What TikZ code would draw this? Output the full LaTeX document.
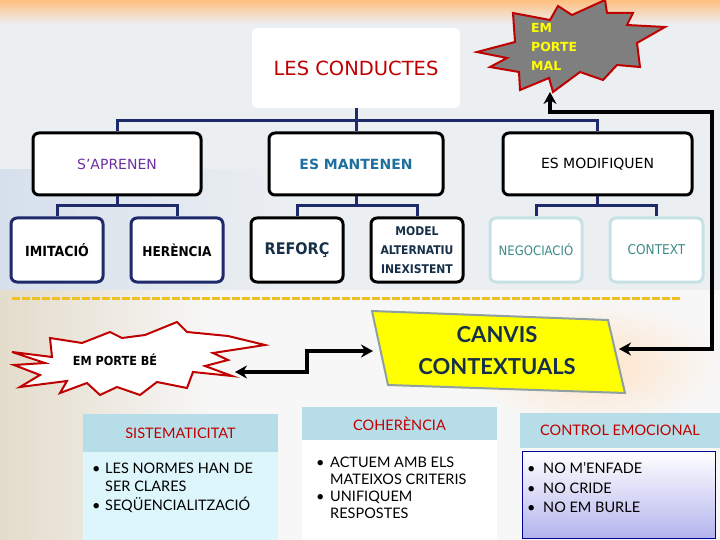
\documentclass[tikz,border=0pt]{standalone}
\usepackage{fontspec}
\setmainfont{DejaVu Sans}
\newfontfamily\cond{DejaVu Sans Condensed}
\newfontfamily\lato{Lato}
\usetikzlibrary{arrows.meta,calc}
\definecolor{bgc}{HTML}{ECEFF2}
\definecolor{navyl}{HTML}{1F2A6B}
\definecolor{cred}{HTML}{C00000}
\definecolor{cpurp}{HTML}{7030A0}
\definecolor{cblue}{HTML}{1F6F9F}
\definecolor{cteal}{HTML}{3E8A8A}
\definecolor{paleteal}{HTML}{C6E2E4}
\definecolor{hdr}{HTML}{B7DEE8}
\definecolor{cyanbody}{HTML}{DDF6FC}
\definecolor{lav}{HTML}{B4B4EE}
\definecolor{cnavy}{HTML}{17304A}
\definecolor{cyel}{HTML}{FFFF00}
\definecolor{dashy}{HTML}{F0C020}
\definecolor{canvb}{HTML}{8FA0A0}
\definecolor{starg}{HTML}{7F7F7F}
\definecolor{beige}{HTML}{E4DCCB}
\definecolor{paleb}{HTML}{D6E0EC}
\begin{document}
\begin{tikzpicture}[x=1pt,y=-1pt,
  topbox/.style={draw=black,line width=3pt,rounded corners=6pt,fill=white,minimum width=168pt,minimum height=62pt,inner sep=0pt},
  smallbox/.style={line width=3pt,rounded corners=6pt,fill=white,minimum width=92pt,minimum height=64pt,inner sep=0pt,align=center},
  tree/.style={navyl,line width=3pt},
  blackarr/.style={line width=4pt,black,{Stealth[length=12pt,width=13pt]}-{Stealth[length=12pt,width=13pt]}},
  starline/.style={line width=2pt,draw=cred,line join=miter},
  lbl/.style={inner sep=0pt},
  bul/.style={inner sep=0pt,anchor=north west,align=left,font=\lato\fontsize{14.5}{18.5}\selectfont}
]
\useasboundingbox (0,0) rectangle (720,540);
% background
\fill[bgc] (0,0) rectangle (720,540);
\shade[top color=orange!50!white, bottom color=bgc] (0,0) rectangle (720,24);
\shade[left color=paleb, right color=bgc] (0,170) rectangle (300,295);
\fill[white!97!black] (0,290) rectangle (720,540);
\shade[left color=beige, right color=white!97!black] (0,290) rectangle (215,540);
\shade[inner color=orange!22!white, outer color=white!97!black] (470,300) rectangle (720,430);

% dashed separator
\draw[dashy,line width=3pt,dash pattern=on 8pt off 2pt] (12,298) -- (682,298);

% top node
\node[fill=white,rounded corners=6pt,minimum width=208pt,minimum height=80pt,inner sep=0pt,
  text=cred,font=\fontsize{19.5}{24}\selectfont] (lc) at (356,68) {LES CONDUCTES};

% level 1
\node[topbox,text=cpurp,font=\fontsize{14}{17}\selectfont] (sa) at (117,164) {S’APRENEN};
\node[topbox,minimum width=174pt,text=cblue,font=\bfseries\fontsize{14}{17}\selectfont] (ma) at (356,164) {ES MANTENEN};
\node[topbox,minimum width=189pt,font=\fontsize{14}{17}\selectfont] (mo) at (597.5,164) {ES MODIFIQUEN};

% level 2
\node[smallbox,draw=navyl,font=\cond\bfseries\fontsize{14}{17}\selectfont] (im) at (57,250) {IMITACIÓ};
\node[smallbox,draw=navyl,font=\cond\bfseries\fontsize{13.5}{17}\selectfont] (he) at (177,250) {HERÈNCIA};
\node[smallbox,draw=black,text=cnavy,font=\cond\bfseries\fontsize{16}{19}\selectfont] (re) at (297,250) {REFORÇ};
\node[smallbox,draw=black,text=cnavy,font=\cond\bfseries\fontsize{12}{19}\selectfont] (md) at (417,250) {MODEL\\ALTERNATIU\\INEXISTENT};
\node[smallbox,draw=paleteal,text=cteal,font=\cond\fontsize{13}{16}\selectfont] (ne) at (536,250) {NEGOCIACIÓ};
\node[smallbox,minimum width=93pt,draw=paleteal,text=cteal,font=\cond\fontsize{13.5}{16}\selectfont] (co) at (656.5,250) {CONTEXT};

% tree connectors
\draw[tree] (sa.north) -- ++(0,-11) -| (lc.south);
\draw[tree] (ma.north) -- ++(0,-11) -| (lc.south);
\draw[tree] (mo.north) -- ++(0,-11) -| (lc.south);
\draw[tree] (im.north) -- ++(0,-11) -| (sa.south);
\draw[tree] (he.north) -- ++(0,-11) -| (sa.south);
\draw[tree] (re.north) -- ++(0,-11) -| (ma.south);
\draw[tree] (md.north) -- ++(0,-11) -| (ma.south);
\draw[tree] (ne.north) -- ++(0,-11) -| (mo.south);
\draw[tree] (co.north) -- ++(0,-11) -| (mo.south);

% EM PORTE MAL star
\draw[starline,fill=starg] (477,52) -- (515,42) -- (513,13) -- (550,20) -- (558,6) -- (572,15) -- (605,0)
  -- (607,13) -- (633,13) -- (627,25) -- (665,27) -- (637,43) -- (640,67) -- (617,65) -- (603,80)
  -- (580,72) -- (553,92) -- (549,78) -- (520,90) -- (519,72) -- (490,67) -- (507,58) -- cycle;
\node[lbl,anchor=west,align=left,text=cyel,font=\bfseries\fontsize{12.5}{19}\selectfont] (mal) at (531,47) {EM\\PORTE\\MAL};

% EM PORTE BE star
\draw[starline,fill=white] (12,352) -- (52,357) -- (50,338) -- (82,343) -- (110,332) -- (122,338)
  -- (145,335) -- (177,322) -- (187,332) -- (228,336) -- (265,345) -- (213,353) -- (228,360)
  -- (205,366) -- (232,376) -- (193,372) -- (187,388) -- (157,382) -- (140,395) -- (117,387)
  -- (100,395) -- (87,383) -- (60,393) -- (67,381) -- (20,387) -- (40,375) -- (14,365) -- (45,363) -- cycle;
\node[lbl,font=\cond\bfseries\fontsize{12.5}{14}\selectfont] (be) at (115,360) {EM PORTE BÉ};

% CANVIS CONTEXTUALS
\draw[line width=2pt,draw=canvb,fill=cyel] (372,311) -- (608,320) -- (625,393) -- (388,385) -- cycle;
\node[lbl,align=center,text=cnavy,font=\lato\bfseries\fontsize{22}{32}\selectfont] (cv) at (497,351) {CANVIS\\CONTEXTUALS};

% arrow connectors
\coordinate (malp) at (550,92);
\coordinate (rc) at (712,112);
\coordinate (cvr) at (619,349);
\coordinate (cvl) at (373,351);
\coordinate (bep) at (235,372);
\coordinate (bk) at (307,372);
\draw[blackarr] (malp) |- (rc) |- (cvr);
\draw[blackarr] (bep) -- (bk) |- (cvl);

% SISTEMATICITAT
\node[fill=hdr,minimum width=195pt,minimum height=38pt,inner sep=0pt,text=cred,font=\lato\fontsize{14.5}{17}\selectfont] (si) at (180.5,433) {SISTEMATICITAT};
\fill[cyanbody] (si.south west) rectangle (278,540);
\node[bul] (sib) at (92,460) {\begin{tabular}{@{}p{13pt}@{}l@{}}•&LES NORMES HAN DE\\&SER CLARES\\•&SEQÜENCIALITZACIÓ\end{tabular}};

% COHERENCIA
\node[fill=hdr,minimum width=195pt,minimum height=33pt,inner sep=0pt,text=cred,font=\lato\fontsize{14.5}{17}\selectfont] (ch) at (399.5,423.5) {COHERÈNCIA};
\fill[white] (ch.south west) rectangle (497,540);
\node[bul,font=\lato\fontsize{14.5}{17}\selectfont] (chb) at (316,455) {\begin{tabular}{@{}p{14pt}@{}l@{}}•&ACTUEM AMB ELS\\&MATEIXOS CRITERIS\\•&UNIFIQUEM\\&RESPOSTES\end{tabular}};

% CONTROL EMOCIONAL
\node[fill=hdr,minimum width=200pt,minimum height=35pt,inner sep=0pt,text=cred,font=\lato\fontsize{14.5}{17}\selectfont] (ce) at (620,430.5) {CONTROL EMOCIONAL};
\shade[top color=white,bottom color=lav,draw=blue!60!black,line width=1pt] (522,451) rectangle (715,538);
\node[bul,font=\lato\fontsize{14.5}{19.5}\selectfont] (ceb) at (527,460) {\begin{tabular}{@{}p{16pt}@{}l@{}}•&NO M’ENFADE\\•&NO CRIDE\\•&NO EM BURLE\end{tabular}};
\end{tikzpicture}
\end{document}
